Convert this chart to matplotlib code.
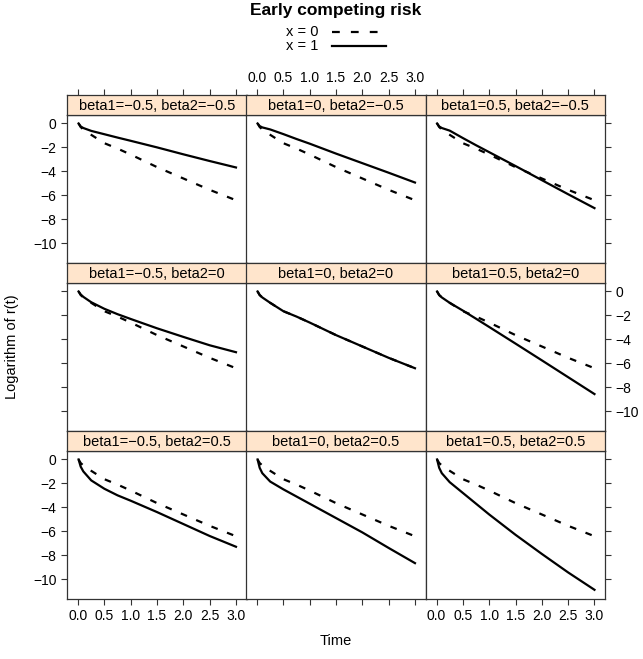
import matplotlib.pyplot as plt
from matplotlib.lines import Line2D

plt.rcParams['font.family'] = ['Liberation Sans', 'DejaVu Sans']

# data
time = [0.01, 0.05, 0.1, 0.25, 0.5, 0.75, 1.0, 1.5, 2.0, 2.5, 3.0]
beta1_levels = ["-0.5", "0", "0.5"]
beta2_levels = ["-0.5", "0", "0.5"]

# x = 0 does not depend on beta1/beta2
logr_x0 = [0.0, -0.3, -0.5, -0.95, -1.65, -2.1, -2.6, -3.65, -4.6, -5.55, -6.42]

# x = 1, one list per (beta1, beta2)
logr_b1m_b2m = [0.0, -0.25, -0.38, -0.62, -0.9, -1.18, -1.45, -2.0, -2.58, -3.14, -3.68]
logr_b10_b2m = [0.0, -0.22, -0.33, -0.5, -0.89, -1.3, -1.69, -2.52, -3.32, -4.12, -4.94]
logr_b1p_b2m = [0.0, -0.25, -0.38, -0.6, -1.22, -1.82, -2.4, -3.56, -4.74, -5.92, -7.08]
logr_b1m_b20 = [0.0, -0.25, -0.45, -0.9, -1.45, -1.9, -2.3, -3.08, -3.8, -4.5, -5.08]
logr_b10_b20 = [0.0, -0.3, -0.5, -0.95, -1.65, -2.1, -2.6, -3.65, -4.6, -5.55, -6.42]
logr_b1p_b20 = [0.0, -0.3, -0.5, -0.95, -1.6, -2.28, -2.97, -4.36, -5.76, -7.17, -8.58]
logr_b1m_b2p = [0.0, -0.6, -1.0, -1.75, -2.45, -3.0, -3.45, -4.4, -5.4, -6.4, -7.3]
logr_b10_b2p = [0.0, -0.7, -1.15, -1.85, -2.5, -3.1, -3.7, -4.9, -6.1, -7.4, -8.67]
logr_b1p_b2p = [0.0, -0.7, -1.15, -1.9, -2.8, -3.7, -4.6, -6.3, -7.9, -9.45, -10.9]

logr_x1 = [
    [logr_b1m_b2m, logr_b10_b2m, logr_b1p_b2m],
    [logr_b1m_b20, logr_b10_b20, logr_b1p_b20],
    [logr_b1m_b2p, logr_b10_b2p, logr_b1p_b2p],
]

W, H = 643, 659
fig = plt.figure(figsize=(W / 100, H / 100), dpi=100)

col_left = [67, 246, 425.5]
col_w = 179.5
row_top = [95, 263, 431]
row_h = 168
strip_h = 19.5
edge = "#333333"
strip_col = "#ffe5cc"
xt = [0, 0.5, 1, 1.5, 2, 2.5, 3]
yt = [-10, -8, -6, -4, -2, 0]
xlim = (-0.21, 3.2)
ylim = (-11.67, 0.75)


def fbox(x, y, w, h):
    return [x / W, 1 - (y + h) / H, w / W, h / H]


for r in range(3):
    for c in range(3):
        x0 = col_left[c]
        y0 = row_top[r]
        ax = fig.add_axes(fbox(x0, y0 + strip_h, col_w, row_h - strip_h))
        ax.plot(time, logr_x0, color="black", lw=1.6, dashes=(3, 4.5))
        ax.plot(time, logr_x1[r][c], color="black", lw=1.6)
        ax.set_xlim(*xlim)
        ax.set_ylim(*ylim)
        for s in ax.spines.values():
            s.set_color(edge)
            s.set_linewidth(0.9)
        ax.tick_params(direction="out", length=4.5, width=0.8, color=edge,
                       labelsize=10, pad=3,
                       left=(c == 0), right=(c == 2),
                       labelleft=(c == 0 and r != 1),
                       labelright=(c == 2 and r == 1),
                       bottom=(r == 2), top=False,
                       labelbottom=(r == 2 and c != 1), labeltop=False)
        ax.set_xticks(xt)
        ax.set_xticklabels([f"{v:.1f}" for v in xt])
        ax.set_yticks(yt)

        sax = fig.add_axes(fbox(x0, y0, col_w, strip_h))
        sax.set_facecolor(strip_col)
        sax.set_xlim(*xlim)
        sax.set_yticks([])
        for s in sax.spines.values():
            s.set_color(edge)
            s.set_linewidth(0.9)
        sax.set_xticks(xt)
        sax.set_xticklabels([f"{v:.1f}" for v in xt])
        sax.tick_params(direction="out", length=4.5, width=0.8, color=edge,
                        labelsize=10, pad=3, bottom=False, labelbottom=False,
                        top=(r == 0), labeltop=(r == 0 and c == 1))
        sax.text(0.5, 0.45, f"beta1={beta1_levels[c]}, beta2={beta2_levels[r]}".replace("-", "\u2212"),
                 transform=sax.transAxes, ha="center", va="center", fontsize=10.5)

fig.text(336 / W, 1 - 11 / H, "Early competing risk", ha="center", va="center",
         fontsize=12.5, fontweight="bold")
fig.text(318 / W, 1 - 32 / H, "x = 0", ha="right", va="center", fontsize=10.5)
fig.text(318 / W, 1 - 46 / H, "x = 1", ha="right", va="center", fontsize=10.5)
fig.add_artist(Line2D([332 / W, 386 / W], [1 - 32 / H, 1 - 32 / H], color="black",
                      lw=1.6, dashes=(3.5, 5), transform=fig.transFigure))
fig.add_artist(Line2D([332 / W, 386 / W], [1 - 46 / H, 1 - 46 / H], color="black",
                      lw=1.6, transform=fig.transFigure))

fig.text(336 / W, 1 - 641 / H, "Time", ha="center", va="center", fontsize=10.5)
fig.text(12 / W, 1 - 347 / H, "Logarithm of r(t)", ha="center", va="center",
         fontsize=10.5, rotation=90)

fig.savefig("out.png", dpi=100)
